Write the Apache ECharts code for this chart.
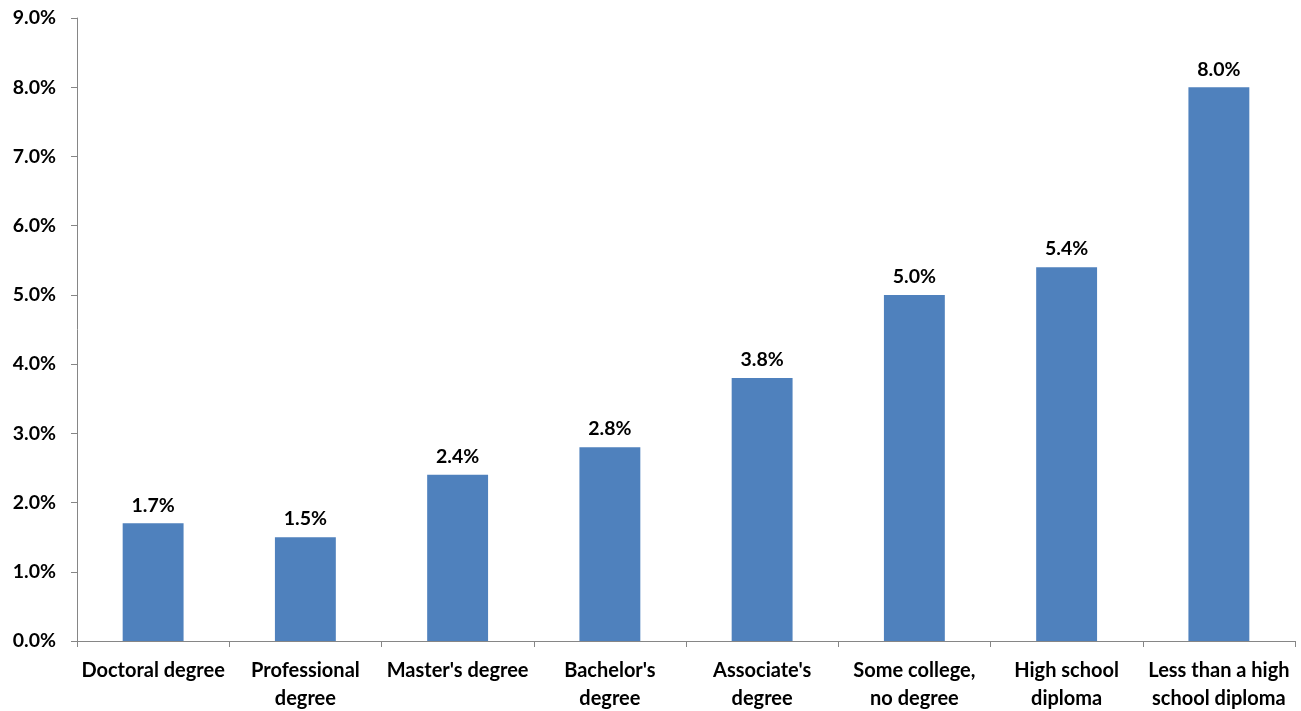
<!DOCTYPE html>
<html>
<head>
<meta charset="utf-8">
<script src="https://cdn.jsdelivr.net/npm/echarts@6/dist/echarts.min.js"></script>
<style>html,body{margin:0;padding:0;background:#fff;}#c{width:1301px;height:711px;}</style>
</head>
<body>
<div id="c"></div>
<script>
const categories = ["Doctoral degree", "Professional\ndegree", "Master's degree", "Bachelor's\ndegree", "Associate's\ndegree", "Some college,\nno degree", "High school\ndiploma", "Less than a high\nschool diploma"];
const rates = [1.7, 1.5, 2.4, 2.8, 3.8, 5.0, 5.4, 8.0];
const yMin = 0, yMax = 9, yStep = 1;

const FONT = 'Lato';
const chart = echarts.init(document.getElementById('c'));
chart.setOption({
  animation: false,
  backgroundColor: '#fff',
  grid: {left: 77, right: 6, top: 18, bottom: 70, containLabel: false, outerBoundsMode: 'none'},
  xAxis: {
    type: 'category',
    data: categories,
    axisLine: {lineStyle: {color: '#868686', width: 1}},
    axisTick: {show: true, length: 6, alignWithLabel: false, lineStyle: {color: '#868686'}},
    axisLabel: {interval: 0, margin: 16, color: '#000', fontFamily: FONT, fontWeight: 'bold', fontSize: 20, lineHeight: 28}
  },
  yAxis: {
    type: 'value',
    min: yMin, max: yMax, interval: yStep,
    axisLine: {show: true, lineStyle: {color: '#868686', width: 1}},
    axisTick: {show: true, length: 6, lineStyle: {color: '#868686'}},
    splitLine: {show: false},
    axisLabel: {margin: 21, color: '#000', fontFamily: FONT, fontWeight: 'bold', fontSize: 19.5,
      formatter: v => v.toFixed(1) + '%'}
  },
  series: [{
    type: 'bar',
    data: rates,
    barWidth: '40%',
    itemStyle: {color: '#4F81BD'},
    label: {show: true, position: 'top', distance: 8, color: '#000', fontFamily: FONT, fontWeight: 'bold', fontSize: 19.5,
      formatter: p => p.value.toFixed(1) + '%'}
  }]
});
</script>
</body>
</html>
